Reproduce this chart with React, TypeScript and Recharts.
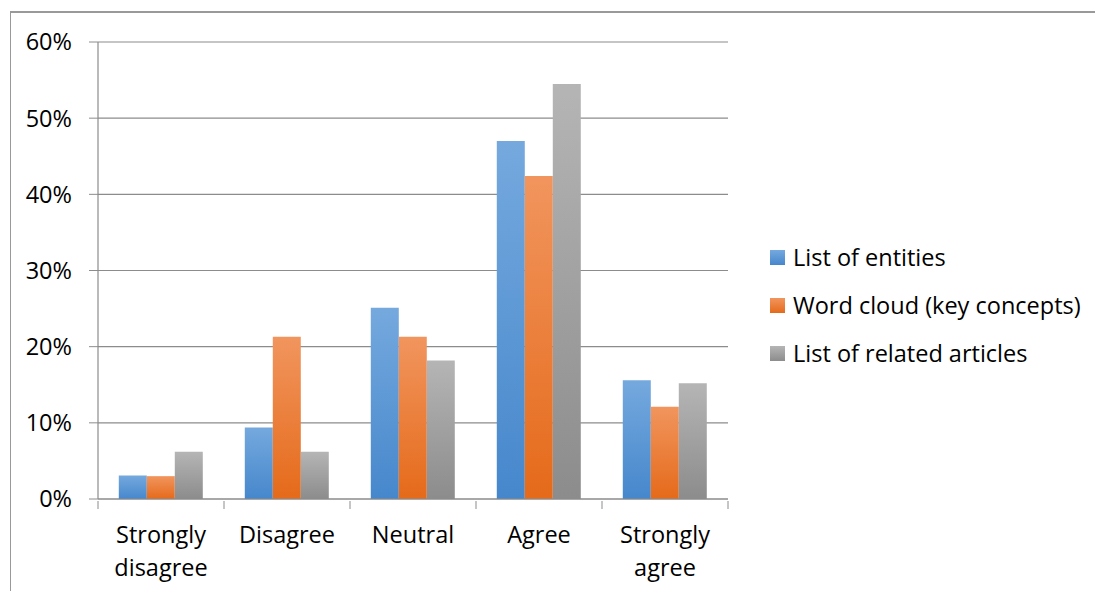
import React from 'react'
import { BarChart, Bar, XAxis, YAxis, CartesianGrid, Legend } from 'recharts'

const CATEGORIES = ['Strongly disagree', 'Disagree', 'Neutral', 'Agree', 'Strongly agree']
const ENTITIES = [3.1, 9.4, 25.1, 47.0, 15.6]
const WORD_CLOUD = [3.0, 21.3, 21.3, 42.4, 12.1]
const RELATED = [6.2, 6.2, 18.2, 54.5, 15.2]
const Y_TICKS = [0, 10, 20, 30, 40, 50, 60]

const SERIES = [
  { key: 'entities', label: 'List of entities', top: '#75a9de', bottom: '#4687cc' },
  { key: 'wordCloud', label: 'Word cloud (key concepts)', top: '#f1955e', bottom: '#e56a1a' },
  { key: 'related', label: 'List of related articles', top: '#b5b5b5', bottom: '#8c8c8c' },
] as const

const data = CATEGORIES.map((name, i) => ({
  name,
  entities: ENTITIES[i],
  wordCloud: WORD_CLOUD[i],
  related: RELATED[i],
}))

// layout
const W = 1095
const H = 591
const M = { top: 42, right: 5, left: 0, bottom: 0 }
const Y_W = 98
const X_H = 92
const LEGEND_W = 362
const PLOT_W = W - M.left - M.right - Y_W - LEGEND_W
const BAND = PLOT_W / CATEGORIES.length
const GRID = '#8c8c8c'
const FONT = '"Open Sans", sans-serif'
const FS = 23.5

function XTick(props: any) {
  const { x, y, payload, index } = props
  const words = String(payload.value).split(' ')
  const last = index === CATEGORIES.length - 1
  return (
    <g>
      <line x1={x - BAND / 2} x2={x - BAND / 2} y1={y} y2={y + 8} stroke={GRID} />
      {last && <line x1={x + BAND / 2} x2={x + BAND / 2} y1={y} y2={y + 8} stroke={GRID} />}
      <text x={x} y={y + 42} textAnchor="middle" fill="#000" fontSize={FS} fontFamily={FONT}>
        {words.map((w, i) => (
          <tspan key={i} x={x} dy={i === 0 ? 0 : 33}>
            {w}
          </tspan>
        ))}
      </text>
    </g>
  )
}

function LegendBox() {
  return (
    <div style={{ paddingLeft: 42, paddingTop: 19, fontFamily: FONT, fontSize: FS, color: '#000' }}>
      {SERIES.map((s) => (
        <div key={s.key} style={{ display: 'flex', alignItems: 'center', height: 48, whiteSpace: 'nowrap' }}>
          <span
            style={{
              display: 'inline-block',
              width: 15,
              height: 15,
              marginRight: 8,
              background: `linear-gradient(${s.top}, ${s.bottom})`,
            }}
          />
          {s.label}
        </div>
      ))}
    </div>
  )
}

export default function App() {
  return (
    <div style={{ position: 'absolute', left: 0, top: 0, width: W, height: H, overflow: 'hidden', background: '#fff' }}>
      <div
        style={{
          position: 'absolute',
          left: 10,
          top: 11,
          width: W,
          height: H,
          borderTop: '2px solid #999',
          borderLeft: '1px solid #999',
        }}
      />
      <BarChart
        width={W}
        height={H}
        data={data}
        margin={M}
        barGap={0}
        barCategoryGap="16.5%"
        style={{ position: 'absolute', left: 0, top: 0 }}
      >
        <defs>
          {SERIES.map((s) => (
            <linearGradient key={s.key} id={`g-${s.key}`} x1="0" y1="0" x2="0" y2="1">
              <stop offset="0%" stopColor={s.top} />
              <stop offset="100%" stopColor={s.bottom} />
            </linearGradient>
          ))}
        </defs>
        <CartesianGrid vertical={false} stroke={GRID} strokeWidth={1.2} />
        <XAxis
          dataKey="name"
          height={X_H}
          interval={0}
          tickLine={false}
          tickSize={0}
          axisLine={{ stroke: GRID, strokeWidth: 1.2 }}
          tick={<XTick />}
        />
        <YAxis
          width={Y_W}
          domain={[0, 60]}
          ticks={Y_TICKS}
          tickFormatter={(v) => `${v}%`}
          tickSize={9}
          tickMargin={17}
          tickLine={{ stroke: GRID }}
          axisLine={{ stroke: GRID, strokeWidth: 1.2 }}
          tick={{ fill: '#000', fontSize: FS, fontFamily: FONT }}
        />
        <Legend
          layout="vertical"
          align="right"
          verticalAlign="middle"
          width={LEGEND_W}
          content={<LegendBox />}
        />
        {SERIES.map((s) => (
          <Bar key={s.key} dataKey={s.key} name={s.label} fill={`url(#g-${s.key})`} isAnimationActive={false} />
        ))}
      </BarChart>
    </div>
  )
}
